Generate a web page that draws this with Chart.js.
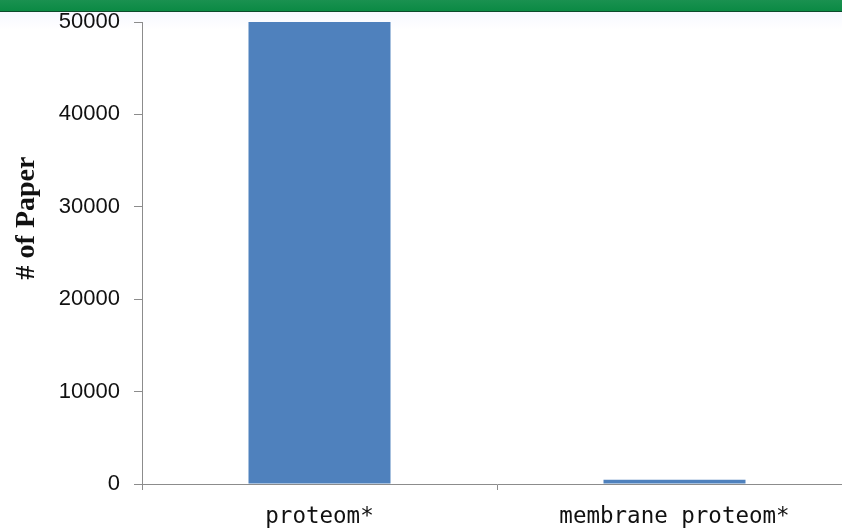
<!DOCTYPE html>
<html>
<head>
<meta charset="utf-8">
<script src="https://cdn.jsdelivr.net/npm/chart.js@4/dist/chart.umd.min.js"></script>
<style>
  html, body { margin: 0; padding: 0; background: #fff; overflow: hidden; }
  #wrap { position: relative; width: 842px; height: 529px; overflow: hidden; }
  #band { position: absolute; left: 0; top: 0; width: 842px; height: 11px;
          background: linear-gradient(#1a9150, #0b8a44); border-bottom: 1px solid #0d4a2c; z-index: 2; }
  #haze { position: absolute; left: 0; top: 12px; width: 842px; height: 18px;
          background: linear-gradient(#f6f8ff, rgba(255,255,255,0)); z-index: 0; }
  canvas { position: absolute; left: 0; top: 0; z-index: 1; }
</style>
</head>
<body>
<div id="wrap">
  <div id="band"></div>
  <div id="haze"></div>
  <canvas id="c" width="880" height="529" style="width:880px;height:529px"></canvas>
</div>
<script>
// Search terms and the number of papers found for each
const categories = ['proteom*', 'membrane proteom*'];
const paperCounts = [50000, 450];
const yTicks = [0, 10000, 20000, 30000, 40000, 50000];
const yAxisTitle = '# of Paper';

const axisGray = '#8c8c8c';

// Rotated axis title
const axisTitlePlugin = {
  id: 'axisTitle',
  afterDraw(chart) {
    const ctx = chart.ctx;
    ctx.save();
    ctx.translate(27, 218);
    ctx.rotate(-Math.PI / 2);
    ctx.font = 'bold 28px "Liberation Serif", serif';
    ctx.fillStyle = '#111';
    ctx.textAlign = 'center';
    ctx.textBaseline = 'middle';
    ctx.fillText(yAxisTitle, 0, 0);
    ctx.restore();
  }
};

new Chart(document.getElementById('c'), {
  type: 'bar',
  data: {
    labels: categories,
    datasets: [{
      data: paperCounts,
      backgroundColor: '#4f81bd',
      borderWidth: 0,
      categoryPercentage: 0.4,
      barPercentage: 1.0
    }]
  },
  options: {
    responsive: false,
    animation: false,
    devicePixelRatio: 1,
    layout: { padding: { top: 22, right: 28, left: 0, bottom: 0 } },
    plugins: { legend: { display: false }, tooltip: { enabled: false } },
    scales: {
      x: {
        offset: true,
        grid: { display: true, offset: true, drawOnChartArea: false, drawTicks: true,
                tickLength: 6, color: axisGray, lineWidth: 1 },
        border: { display: true, color: axisGray, width: 1 },
        ticks: {
          font: { family: '"DejaVu Sans Mono", monospace', size: 22.5 },
          color: '#111', padding: 14, maxRotation: 0
        },
        afterFit(scale) { scale.height = 529 - 484; scale.paddingLeft = 0; scale.paddingRight = 0; }
      },
      y: {
        min: 0, max: 50000,
        afterBuildTicks(scale) { scale.ticks = yTicks.map(v => ({ value: v })); },
        grid: { display: true, drawOnChartArea: false, drawTicks: true,
                tickLength: 8, color: axisGray, lineWidth: 1 },
        border: { display: true, color: axisGray, width: 1 },
        ticks: {
          font: { family: '"Liberation Sans", Arial, sans-serif', size: 22 },
          color: '#111', padding: 14,
          callback: v => String(v)
        },
        afterFit(scale) { scale.width = 142; scale.paddingTop = 0; scale.paddingBottom = 0; }
      }
    }
  },
  plugins: [axisTitlePlugin]
});
</script>
</body>
</html>
